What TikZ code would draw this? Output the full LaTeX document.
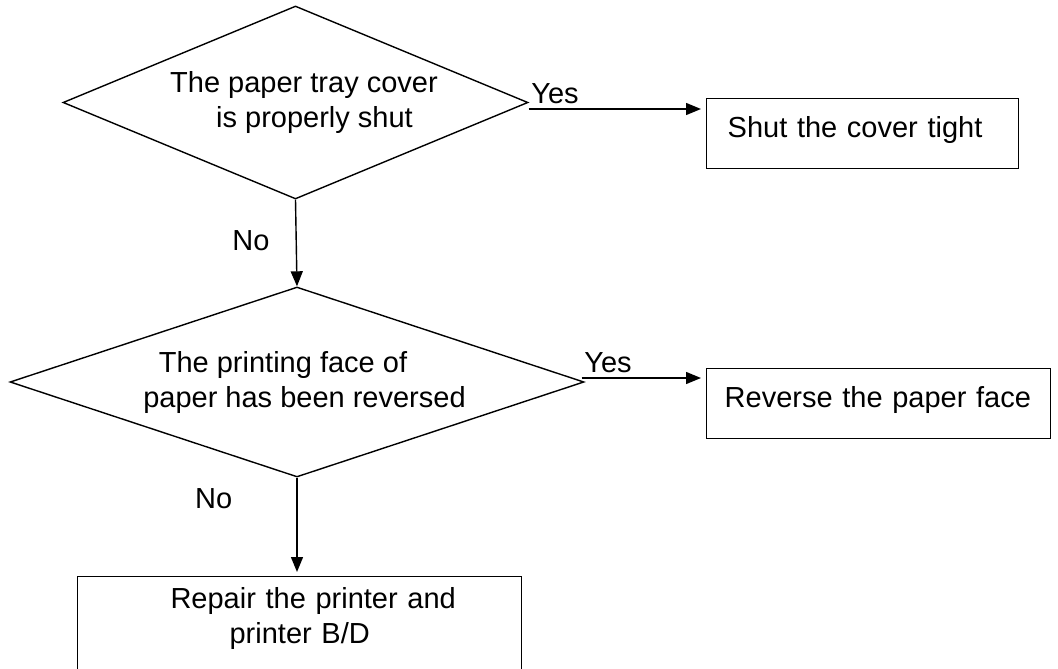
\documentclass[tikz,border=0pt]{standalone}
\usepackage{fontspec}
\setmainfont{Liberation Sans}
\usetikzlibrary{arrows.meta,positioning,shapes.geometric}
\newcommand{\flowfont}{\fontsize{29}{35}\selectfont}
\tikzset{
  query/.style={draw, diamond, line width=1.4pt, inner sep=0pt, align=center, font=\flowfont},
  action/.style={draw, rectangle, line width=1.4pt, anchor=north west, inner ysep=0pt, font=\flowfont},
  pre/.style={-{Triangle[length=15pt,width=12pt]}, line width=1.4pt},
  lbl/.style={font=\flowfont, inner sep=0pt},
  yeslbl/.style={lbl, pos=0, anchor=south west, inner xsep=2pt, inner ysep=5pt},
}

\begin{document}
\begin{tikzpicture}[x=1pt,y=-1pt]
\useasboundingbox (0,0) rectangle (1058,669);
\clip (0,0) rectangle (1058,669);
% decisions
\node[query, aspect=2.41, minimum width=465pt, minimum height=193pt] (q1) at (295.5,102.5) {\hspace*{17pt}The paper tray cover\\\hspace*{38pt}is properly shut};
\node[query, aspect=3.02, minimum width=574pt, minimum height=190pt] (q2) at (297,382) {The printing face of\hspace*{28pt}\\\hspace*{15pt}paper has been reversed};
% actions
\node[action, text width=270pt, inner xsep=21pt, align=left, text height=39pt, text depth=31pt] (b1) at (706,98) {Shut the cover tight};
\node[action, text width=308pt, inner xsep=18pt, align=left, text height=39pt, text depth=31pt] (b2) at (706,368) {Reverse the paper face};
\node[action, text width=444pt, inner xsep=0pt, align=center, text height=32pt, text depth=80pt] (b3) at (77,576) {\hspace*{27pt}Repair the printer and\\printer B/D};
% yes branches
\coordinate (y1) at ([yshift=-6.5pt]q1.east);
\coordinate (y2) at ([xshift=-3pt,yshift=4pt]q2.east);
\draw[pre, shorten >=5pt] (y1) -- (y1 -| b1.west) node[yeslbl] {Yes};
\draw[pre, shorten >=5pt] (y2) -- (y2 -| b2.west) node[yeslbl] {Yes};
% no branches
\draw[pre] (q1.south) -- (q2.north) node[lbl, pos=0.47, left=26pt] {No};
\draw[pre, shorten >=4pt] (q2.south) -- (q2.south |- b3.north) node[lbl, pos=0.21, left=64pt] {No};
\end{tikzpicture}
\end{document}
